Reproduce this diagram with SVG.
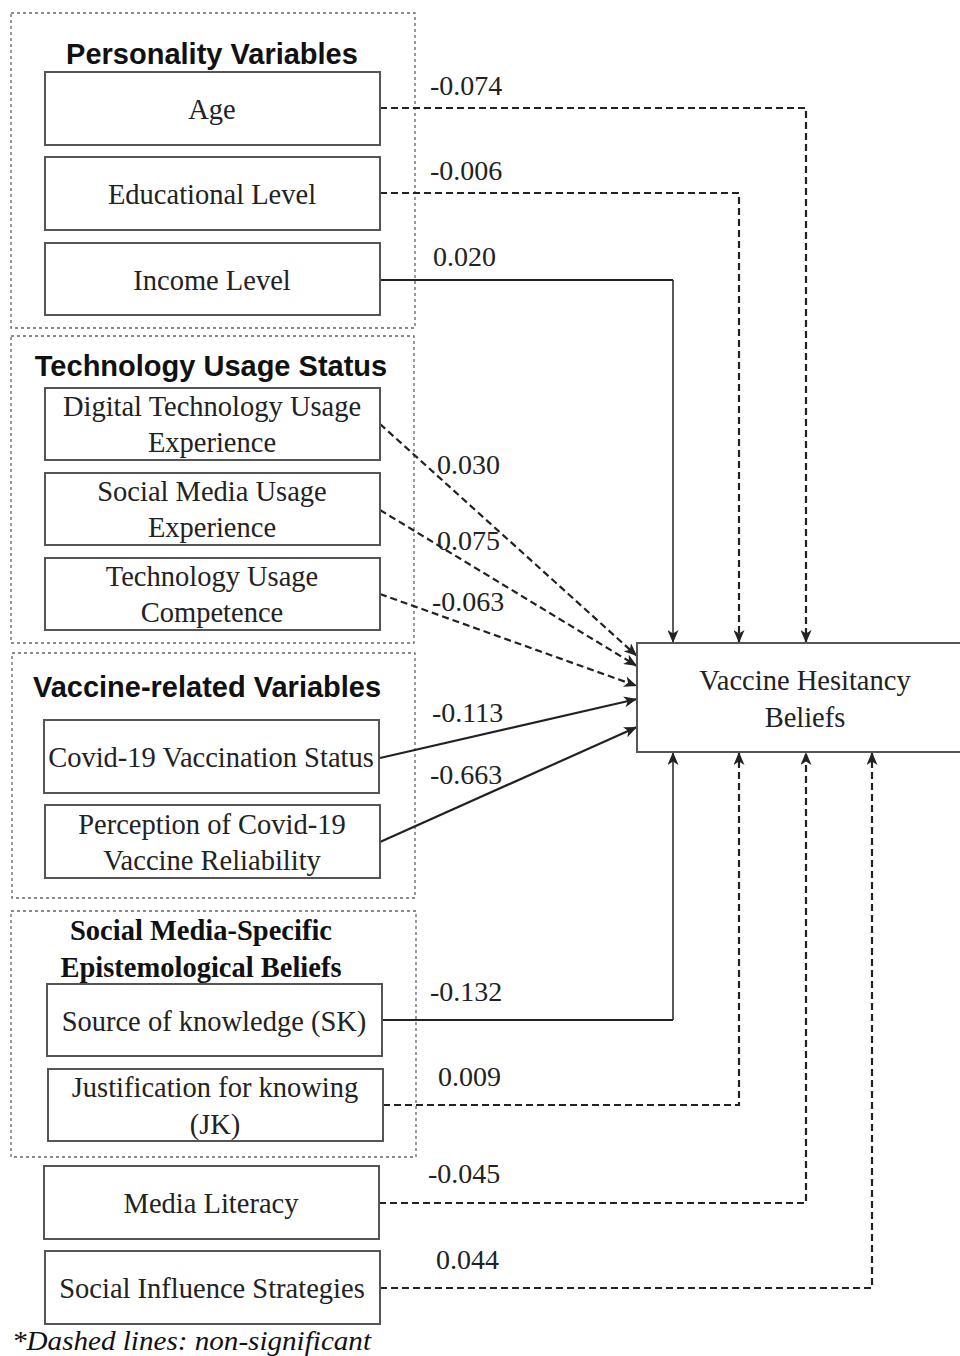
<svg xmlns="http://www.w3.org/2000/svg" width="960" height="1356" viewBox="0 0 960 1356">
<style>
.grp{fill:none;stroke:#666;stroke-width:1.3;stroke-dasharray:3 3}
.box{fill:#fff;stroke:#555;stroke-width:2}
.t{font-family:"Liberation Serif","Times New Roman",serif;font-size:28.5px;fill:#222;text-anchor:middle}
.lbl{font-family:"Liberation Serif","Times New Roman",serif;font-size:28px;fill:#222}
.ttl{font-family:"Liberation Sans",Arial,sans-serif;font-size:29px;font-weight:bold;fill:#111;text-anchor:middle}
.ttls{font-family:"Liberation Serif","Times New Roman",serif;font-size:28.5px;font-weight:bold;fill:#111;text-anchor:middle}
.d{fill:none;stroke:#222;stroke-width:2.2;stroke-dasharray:7 4}
.s{fill:none;stroke:#222;stroke-width:2.2}
.sv{fill:none;stroke:#222;stroke-width:1.5}
</style>
<defs>
<marker id="ah" viewBox="0 0 13 11" refX="13" refY="5.5" markerWidth="13" markerHeight="11" markerUnits="userSpaceOnUse" orient="auto">
<path d="M0,0 L13,5.5 L0,11 L3.5,5.5 Z" fill="#222"/>
</marker>
</defs>
<rect width="960" height="1356" fill="#fff"/>

<g id="group-personality">
<rect class="grp" x="11" y="13" width="404" height="315"/>
<text class="ttl" x="212" y="64">Personality Variables</text>
</g>
<g id="group-technology">
<rect class="grp" x="11" y="336" width="403" height="307"/>
<text class="ttl" x="211" y="376">Technology Usage Status</text>
</g>
<g id="group-vaccine">
<rect class="grp" x="12" y="653" width="403" height="245"/>
<text class="ttl" x="207" y="697">Vaccine-related Variables</text>
</g>
<g id="group-epistemological">
<rect class="grp" x="11" y="911" width="405" height="246"/>
<text class="ttls" x="201" y="940">Social Media-Specific</text>
<text class="ttls" x="201" y="977">Epistemological Beliefs</text>
</g>

<g id="connectors">
<polyline class="d" points="380,108 806,108 806,643" marker-end="url(#ah)"/>
<polyline class="d" points="380,193 739,193 739,643" marker-end="url(#ah)"/>
<polyline class="s" points="380,280 673,280"/>
<polyline class="sv" points="673,280 673,643" marker-end="url(#ah)"/>
<line class="d" x1="380" y1="424" x2="637" y2="656" marker-end="url(#ah)"/>
<line class="d" x1="380" y1="510" x2="637" y2="666" marker-end="url(#ah)"/>
<line class="d" x1="380" y1="594" x2="637" y2="686" marker-end="url(#ah)"/>
<line class="s" x1="380" y1="758" x2="637" y2="699" marker-end="url(#ah)"/>
<line class="s" x1="380" y1="842" x2="637" y2="727" marker-end="url(#ah)"/>
<polyline class="s" points="382,1020 673,1020"/>
<polyline class="sv" points="673,1020 673,752" marker-end="url(#ah)"/>
<polyline class="d" points="383,1105 739,1105 739,752" marker-end="url(#ah)"/>
<polyline class="d" points="379,1203 806,1203 806,752" marker-end="url(#ah)"/>
<polyline class="d" points="380,1288 872,1288 872,752" marker-end="url(#ah)"/>
<text class="lbl" x="430" y="95">-0.074</text>
<text class="lbl" x="430" y="180">-0.006</text>
<text class="lbl" x="433" y="266">0.020</text>
<text class="lbl" x="437" y="474">0.030</text>
<text class="lbl" x="437" y="550">0.075</text>
<text class="lbl" x="432" y="611">-0.063</text>
<text class="lbl" x="432" y="722">-0.113</text>
<text class="lbl" x="430" y="784">-0.663</text>
<text class="lbl" x="430" y="1001">-0.132</text>
<text class="lbl" x="438" y="1086">0.009</text>
<text class="lbl" x="428" y="1183">-0.045</text>
<text class="lbl" x="436" y="1269">0.044</text>
</g>

<g id="node-age"><rect class="box" x="45" y="72" width="335" height="73"/><text class="t" x="212" y="119">Age</text></g>
<g id="node-education"><rect class="box" x="45" y="157" width="335" height="73"/><text class="t" x="212" y="204">Educational Level</text></g>
<g id="node-income"><rect class="box" x="45" y="243" width="335" height="72"/><text class="t" x="212" y="290">Income Level</text></g>
<g id="node-digital"><rect class="box" x="45" y="388" width="335" height="72"/><text class="t" x="212" y="416">Digital Technology Usage</text><text class="t" x="212" y="452">Experience</text></g>
<g id="node-socialmedia"><rect class="box" x="45" y="473" width="335" height="72"/><text class="t" x="212" y="501">Social Media Usage</text><text class="t" x="212" y="537">Experience</text></g>
<g id="node-techcomp"><rect class="box" x="45" y="558" width="335" height="72"/><text class="t" x="212" y="586">Technology Usage</text><text class="t" x="212" y="622">Competence</text></g>
<g id="node-vacstatus"><rect class="box" x="44" y="720" width="335" height="73"/><text class="t" x="211" y="767">Covid-19 Vaccination Status</text></g>
<g id="node-perception"><rect class="box" x="45" y="805" width="335" height="73"/><text class="t" x="212" y="834">Perception of Covid-19</text><text class="t" x="212" y="870">Vaccine Reliability</text></g>
<g id="node-sk"><rect class="box" x="47" y="984" width="335" height="72"/><text class="t" x="214" y="1031">Source of knowledge (SK)</text></g>
<g id="node-jk"><rect class="box" x="48" y="1069" width="335" height="72"/><text class="t" x="215" y="1097">Justification for knowing</text><text class="t" x="215" y="1134">(JK)</text></g>
<g id="node-medialit"><rect class="box" x="44" y="1166" width="335" height="73"/><text class="t" x="211" y="1213">Media Literacy</text></g>
<g id="node-socialinf"><rect class="box" x="45" y="1251" width="335" height="73"/><text class="t" x="212" y="1298">Social Influence Strategies</text></g>
<g id="node-vhb"><rect class="box" x="637" y="643" width="330" height="109"/><text class="t" x="805" y="690">Vaccine Hesitancy</text><text class="t" x="805" y="727">Beliefs</text></g>

<text x="12" y="1350" font-family="Liberation Serif,Times New Roman,serif" font-style="italic" font-size="28" fill="#111" textLength="359" lengthAdjust="spacingAndGlyphs">*Dashed lines: non-significant</text>
</svg>
